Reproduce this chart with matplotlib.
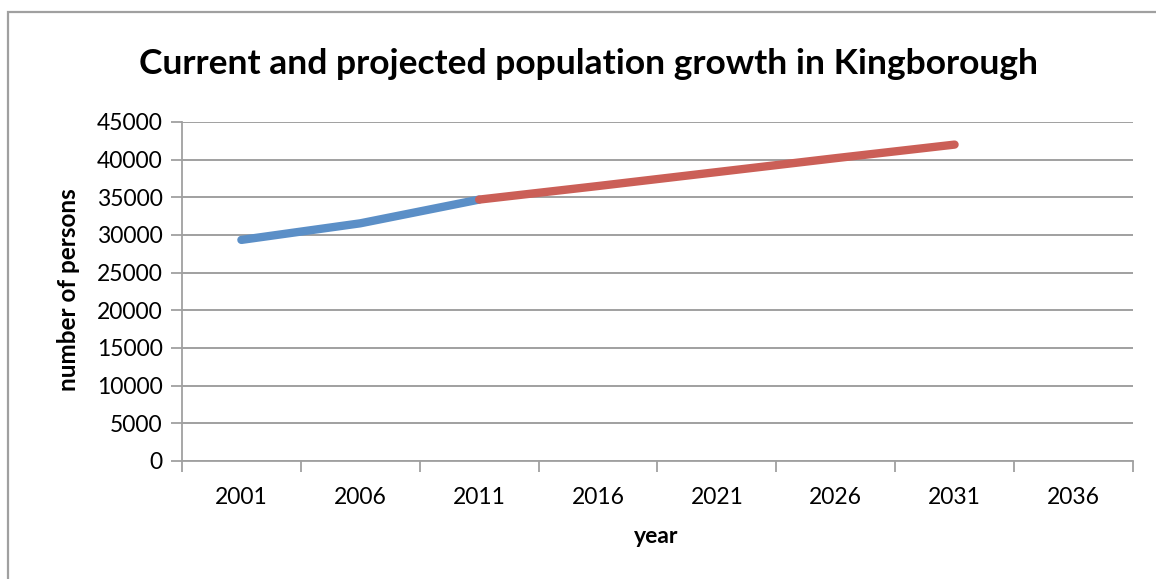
import numpy as np
import matplotlib.pyplot as plt
from matplotlib.patches import Rectangle

plt.rcParams['font.family'] = ['Lato', 'DejaVu Sans']

years = ['2001', '2006', '2011', '2016', '2021', '2026', '2031', '2036']
# current (census) population
current_idx = [0, 1, 2]
current_vals = [29350, 31550, 34700]
# projected population
proj_idx = [2, 3, 4, 5, 6]
proj_vals = [34700, 36500, 38350, 40200, 42000]

blue = '#5B8FC7'
red = '#CB5F57'
grey = '#A0A0A0'

fig = plt.figure(figsize=(11.56, 5.79), dpi=100)
ax = fig.add_axes([0.1574, 0.2038, 0.9800 - 0.1574, 0.7893 - 0.2038])

# outer chart border (runs off the right and bottom)
fig.add_artist(Rectangle((0.0069, -0.05), 1.1, 0.979 + 0.05, transform=fig.transFigure,
                         fill=False, edgecolor=grey, lw=1.6))

ax.plot(current_idx, current_vals, color=blue, lw=6, solid_capstyle='round', zorder=3)
ax.plot(proj_idx, proj_vals, color=red, lw=6, solid_capstyle='round', zorder=3)

ax.set_xlim(-0.5, 7.5)
ax.set_ylim(0, 45000)
ax.set_yticks(np.arange(0, 45001, 5000))
ax.grid(axis='y', color='#999999', lw=1.3)
ax.set_axisbelow(True)

# category boundaries get the tick marks, labels sit in the middle
ax.set_xticks(np.arange(-0.5, 8, 1))
ax.set_xticklabels([])
ax.set_xticks(range(len(years)), minor=True)
ax.set_xticklabels(years, minor=True)
ax.tick_params(axis='x', which='major', length=8, color=grey, width=1.3, direction='out')
ax.tick_params(axis='x', which='minor', length=0, pad=19, labelsize=16.5)
ax.tick_params(axis='y', length=8, color=grey, width=1.3, direction='out', pad=6, labelsize=16.5)

for s in ['top', 'right']:
    ax.spines[s].set_visible(False)
for s in ['left', 'bottom']:
    ax.spines[s].set_color(grey)
    ax.spines[s].set_linewidth(1.3)

fig.text(0.509, 0.889, 'Current and projected population growth in Kingborough',
         fontsize=25.5, fontweight='bold', ha='center', va='center')
fig.text(0.5675, 0.073, 'year', fontsize=16.5, fontweight='bold', ha='center', va='center')
fig.text(0.059, 0.50, 'number of persons', fontsize=17.5, fontweight='bold',
         ha='center', va='center', rotation=90)

fig.savefig('out.png', dpi=100)
